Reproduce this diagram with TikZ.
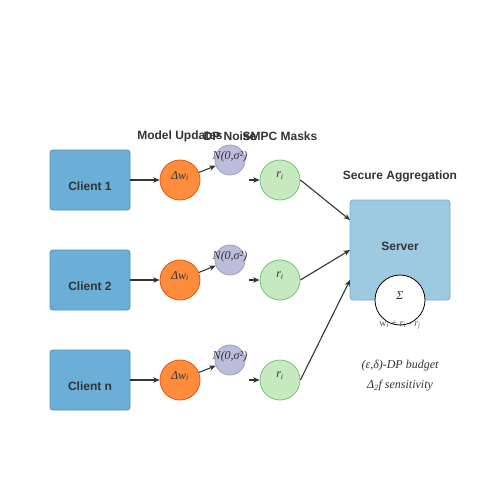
\documentclass[tikz,border=0pt]{standalone}
\usepackage{fontspec}
\setmainfont{Liberation Serif}
\setsansfont{Liberation Sans}
\usetikzlibrary{arrows.meta}
\definecolor{clientfill}{HTML}{6BAED6}
\definecolor{clientdraw}{HTML}{4A90C0}
\definecolor{updfill}{HTML}{FD8D3C}
\definecolor{upddraw}{HTML}{E6550D}
\definecolor{noisefill}{HTML}{BCBDDC}
\definecolor{noisedraw}{HTML}{9E9AC8}
\definecolor{maskfill}{HTML}{C7E9C0}
\definecolor{maskdraw}{HTML}{74C476}
\definecolor{servfill}{HTML}{9ECAE1}
\definecolor{servdraw}{HTML}{6BAED6}
\definecolor{txt}{HTML}{333333}
\tikzset{
  client/.style={draw=clientdraw, fill=clientfill, rounded corners=3pt, minimum width=80pt, minimum height=60pt, inner sep=0pt, line width=0.8pt},
  upd/.style={circle, draw=upddraw, fill=updfill, minimum size=40pt, inner sep=0pt, line width=0.8pt},
  noise/.style={circle, draw=noisedraw, fill=noisefill, minimum size=30pt, inner sep=0pt, line width=0.8pt},
  mask/.style={circle, draw=maskdraw, fill=maskfill, minimum size=40pt, inner sep=0pt, line width=0.8pt},
  hdr/.style={font=\fontsize{12}{14}\selectfont\sffamily\bfseries, text=txt},
  ctext/.style={font=\fontsize{12}{14}\selectfont\sffamily\bfseries, text=txt},
  itx/.style={font=\fontsize{12}{14}\selectfont\itshape, text=txt},
  conn/.style={draw=txt, line width=1.1pt, -{Stealth[length=6.5pt,width=5.5pt]}}
}
\begin{document}
\begin{tikzpicture}[x=1pt,y=-1pt]
\useasboundingbox (0,0) rectangle (500,500);
% headers
\node[hdr] (h1) at (180,136) {Model Updates};
\node[hdr] (h2) at (230,136) {DP Noise};
\node[hdr] (h3) at (280,136) {SMPC Masks};
\node[hdr] (h4) at (400,176) {Secure Aggregation};
% server
\node[draw=servdraw, fill=servfill, rounded corners=3pt, minimum width=100pt, minimum height=100pt, line width=0.8pt] (srv) at (400,250) {};
\node[ctext] (srvt) at (400,246) {Server};
\node[circle, draw=black, fill=white, minimum size=50pt, inner sep=0pt, line width=0.8pt] (sig) at (400,300) {};
\node[itx] (sigt) at (400,296) {Σ};
\node[font=\fontsize{10}{12}\selectfont, text=txt!85] (form) at (400,325) {w\textsubscript{\itshape i} + \textit{r}\textsubscript{\itshape i} - \textit{r}\textsubscript{\itshape j}};
\node[itx] (bud) at (400,366) {(ε,δ)-DP budget};
\node[itx] (sens) at (400,386) {Δ\textsubscript{2}f sensitivity};
% rows
\foreach \i/\y/\lab in {1/180/Client 1, 2/280/Client 2, 3/380/Client n}{
  \node[client] (c\i) at (90,\y) {};
  \node[ctext] (ct\i) at (90,\y+6) {\lab};
  \node[upd] (u\i) at (180,\y) {};
  \node[itx] (ut\i) at (180,\y-4) {Δw\textsubscript{i}};
  \node[noise] (n\i) at (230,\y-20) {};
  \node[itx] (nt\i) at (230,\y-23) {N(0,σ²)};
  \node[mask] (m\i) at (280,\y) {};
  \node[itx] (mt\i) at (280,\y-4) {r\textsubscript{i}};
  \coordinate (p\i) at (249,\y);
  \draw[conn] (c\i.east) -- (u\i.west);
  \draw[conn] (u\i) -- (n\i);
  \draw[conn] (p\i) -- (m\i.west);
}
\coordinate (s1) at (350,220);
\coordinate (s2) at (350,250);
\coordinate (s3) at (350,280);
\draw[conn] (m1.east) -- (s1);
\draw[conn] (m2.east) -- (s2);
\draw[conn] (m3.east) -- (s3);
\end{tikzpicture}
\end{document}
